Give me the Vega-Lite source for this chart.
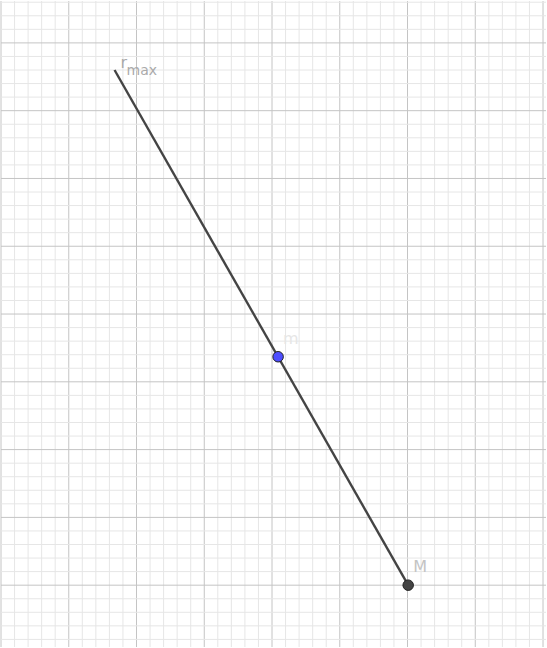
{
  "$schema": "https://vega.github.io/schema/vega-lite/v6.json",
  "autosize": {"type": "fit", "contains": "padding"},
  "width": 547,
  "height": 648,
  "padding": 0,
  "config": {"view": {"stroke": null}},
  "datasets": {
    "gx": [{"v":0,"k":"major"},{"v":0.2,"k":"minor"},{"v":0.4,"k":"minor"},{"v":0.6,"k":"minor"},{"v":0.8,"k":"minor"},{"v":1,"k":"major"},{"v":1.2,"k":"minor"},{"v":1.4,"k":"minor"},{"v":1.6,"k":"minor"},{"v":1.8,"k":"minor"},{"v":2,"k":"major"},{"v":2.2,"k":"minor"},{"v":2.4,"k":"minor"},{"v":2.6,"k":"minor"},{"v":2.8,"k":"minor"},{"v":3,"k":"major"},{"v":3.2,"k":"minor"},{"v":3.4,"k":"minor"},{"v":3.6,"k":"minor"},{"v":3.8,"k":"minor"},{"v":4,"k":"major"},{"v":4.2,"k":"minor"},{"v":4.4,"k":"minor"},{"v":4.6,"k":"minor"},{"v":4.8,"k":"minor"},{"v":5,"k":"major"},{"v":5.2,"k":"minor"},{"v":5.4,"k":"minor"},{"v":5.6,"k":"minor"},{"v":5.8,"k":"minor"},{"v":6,"k":"major"},{"v":6.2,"k":"minor"},{"v":6.4,"k":"minor"},{"v":6.6,"k":"minor"},{"v":6.8,"k":"minor"},{"v":7,"k":"major"},{"v":7.2,"k":"minor"},{"v":7.4,"k":"minor"},{"v":7.6,"k":"minor"},{"v":7.8,"k":"minor"},{"v":8,"k":"major"}],
    "gy": [{"v":-0.8,"k":"minor"},{"v":-0.6,"k":"minor"},{"v":-0.4,"k":"minor"},{"v":-0.2,"k":"minor"},{"v":0,"k":"major"},{"v":0.2,"k":"minor"},{"v":0.4,"k":"minor"},{"v":0.6,"k":"minor"},{"v":0.8,"k":"minor"},{"v":1,"k":"major"},{"v":1.2,"k":"minor"},{"v":1.4,"k":"minor"},{"v":1.6,"k":"minor"},{"v":1.8,"k":"minor"},{"v":2,"k":"major"},{"v":2.2,"k":"minor"},{"v":2.4,"k":"minor"},{"v":2.6,"k":"minor"},{"v":2.8,"k":"minor"},{"v":3,"k":"major"},{"v":3.2,"k":"minor"},{"v":3.4,"k":"minor"},{"v":3.6,"k":"minor"},{"v":3.8,"k":"minor"},{"v":4,"k":"major"},{"v":4.2,"k":"minor"},{"v":4.4,"k":"minor"},{"v":4.6,"k":"minor"},{"v":4.8,"k":"minor"},{"v":5,"k":"major"},{"v":5.2,"k":"minor"},{"v":5.4,"k":"minor"},{"v":5.6,"k":"minor"},{"v":5.8,"k":"minor"},{"v":6,"k":"major"},{"v":6.2,"k":"minor"},{"v":6.4,"k":"minor"},{"v":6.6,"k":"minor"},{"v":6.8,"k":"minor"},{"v":7,"k":"major"},{"v":7.2,"k":"minor"},{"v":7.4,"k":"minor"},{"v":7.6,"k":"minor"},{"v":7.8,"k":"minor"},{"v":8,"k":"major"},{"v":8.2,"k":"minor"},{"v":8.4,"k":"minor"},{"v":8.6,"k":"minor"}],
    "seg": [{"x": 1.676, "y": 7.6}, {"x": 6.01, "y": 0.0}],
    "pts": [
      {"x": 4.09, "y": 3.37, "name": "m"},
      {"x": 6.01, "y": 0.0, "name": "M"}
    ],
    "lbl": [{"x": 1.676, "y": 7.6}]
  },
  "layer": [
    {
      "data": {"name": "gx"},
      "mark": {"type": "rule", "strokeWidth": 1},
      "encoding": {
        "x": {"field": "v", "type": "quantitative", "scale": {"domain": [0, 8.044], "nice": false, "zero": false}, "axis": null},
        "color": {"field": "k", "type": "nominal", "scale": {"domain": ["minor", "major"], "range": ["#e6e6e6", "#c4c4c4"]}, "legend": null},
        "order": {"field": "k", "sort": "descending"}
      }
    },
    {
      "data": {"name": "gy"},
      "mark": {"type": "rule", "strokeWidth": 1},
      "encoding": {
        "y": {"field": "v", "type": "quantitative", "scale": {"domain": [-0.912, 8.618], "nice": false, "zero": false}, "axis": null},
        "color": {"field": "k", "type": "nominal", "scale": {"domain": ["minor", "major"], "range": ["#e6e6e6", "#c4c4c4"]}, "legend": null},
        "order": {"field": "k", "sort": "descending"}
      }
    },
    {
      "data": {"name": "seg"},
      "mark": {"type": "line", "color": "#444444", "strokeWidth": 2.4},
      "encoding": {
        "x": {"field": "x", "type": "quantitative"},
        "y": {"field": "y", "type": "quantitative"}
      }
    },
    {
      "data": {"name": "pts"},
      "mark": {"type": "point", "filled": true, "size": 110, "stroke": "#222222", "strokeWidth": 1, "opacity": 1},
      "encoding": {
        "x": {"field": "x", "type": "quantitative"},
        "y": {"field": "y", "type": "quantitative"},
        "fill": {"field": "name", "type": "nominal", "scale": {"domain": ["m", "M"], "range": ["#4d4dff", "#444444"]}, "legend": null}
      }
    },
    {
      "data": {"name": "pts"},
      "mark": {"type": "text", "align": "left", "dx": 5, "dy": -18, "fontSize": 16, "font": "DejaVu Sans"},
      "encoding": {
        "x": {"field": "x", "type": "quantitative"},
        "y": {"field": "y", "type": "quantitative"},
        "text": {"field": "name"},
        "color": {"field": "name", "type": "nominal", "scale": {"domain": ["m", "M"], "range": ["#4d4dff", "#444444"]}, "legend": null}
      }
    },
    {
      "data": {"name": "lbl"},
      "mark": {"type": "text", "align": "left", "text": "r", "dx": 6, "dy": -7, "fontSize": 16, "font": "DejaVu Sans", "color": "#aaaaaa"},
      "encoding": {"x": {"field": "x", "type": "quantitative"}, "y": {"field": "y", "type": "quantitative"}}
    },
    {
      "data": {"name": "lbl"},
      "mark": {"type": "text", "align": "left", "text": "max", "dx": 12, "dy": 1, "fontSize": 14, "font": "DejaVu Sans", "color": "#aaaaaa"},
      "encoding": {"x": {"field": "x", "type": "quantitative"}, "y": {"field": "y", "type": "quantitative"}}
    }
  ]
}
